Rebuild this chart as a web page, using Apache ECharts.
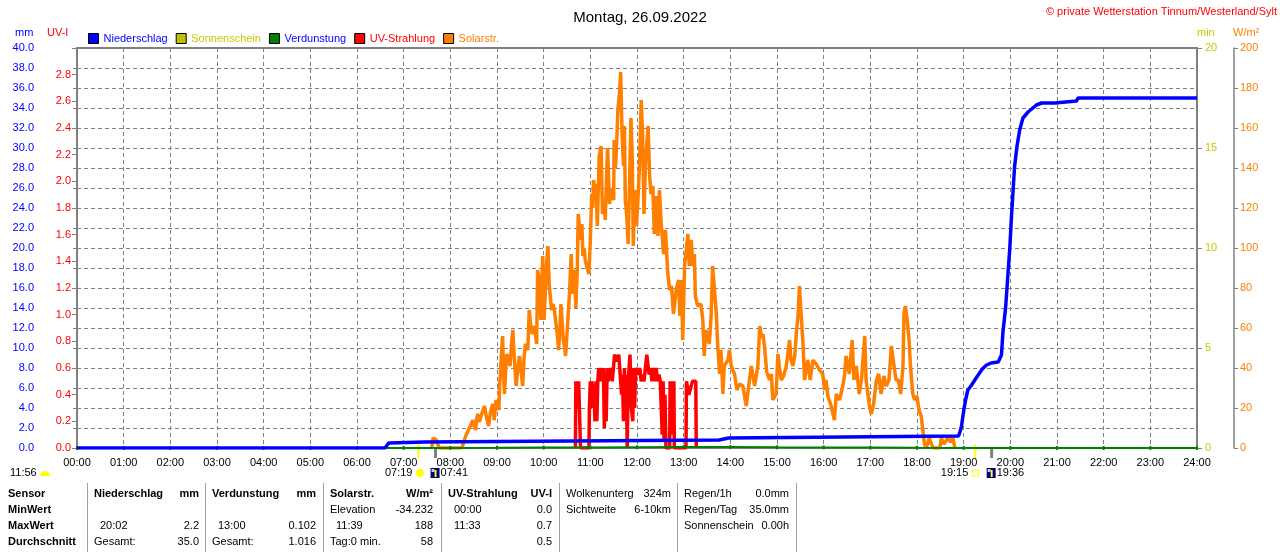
<!DOCTYPE html>
<html><head><meta charset="utf-8">
<script src="https://cdn.jsdelivr.net/npm/echarts/dist/echarts.min.js"></script>
<style>html,body{margin:0;padding:0;background:#fff}#c{width:1280px;height:552px}</style>
</head><body><div id="c"></div>
<script>
// ---------------- DATA ----------------
const titleText = 'Montag, 26.09.2022';
const copyrightText = '© private Wetterstation Tinnum/Westerland/Sylt';
const hourLabels = ['00:00','01:00','02:00','03:00','04:00','05:00','06:00','07:00','08:00','09:00','10:00','11:00','12:00','13:00','14:00','15:00','16:00','17:00','18:00','19:00','20:00','21:00','22:00','23:00','24:00'];
const legendNames = ['Niederschlag','Sonnenschein','Verdunstung','UV-Strahlung','Solarstr.'];

// Niederschlag (mm, cumulative) [hour, mm]
const rain = [[0,0],[6.6,0],[6.64,0.2],[6.68,0.5],[6.72,0.6],[7.44,0.6],[7.48,0.8],[13.76,0.8],[13.78,1.0],[13.96,1.0],[13.98,1.2],
[18.89,1.2],[18.92,1.6],[18.95,2.1],[19.01,4.0],[19.05,5.0],[19.09,5.8],[19.17,6.3],[19.24,6.8],[19.31,7.3],[19.40,7.9],[19.49,8.3],
[19.59,8.5],[19.74,8.6],[19.81,9.3],[19.84,11.5],[19.90,14.1],[19.94,16.8],[19.99,20.1],[20.02,22.8],[20.06,25.8],[20.09,28.1],
[20.14,30.1],[20.20,31.8],[20.27,33.0],[20.38,33.6],[20.56,34.3],[20.67,34.5],[20.95,34.5],[20.99,34.7],[21.42,34.7],[21.45,35.0],[24,35.0]];

// Solarstrahlung (W/m²) [hour, value]
const solar = [[7.60,0],[7.63,5],[7.70,4],[7.74,5],[7.76,0],[8.25,0],[8.26,1],[8.30,4],[8.33,6],[8.37,8],[8.41,10],[8.45,12],[8.48,14],[8.51,11],
[8.54,9],[8.57,15],[8.59,17],[8.62,13],[8.66,14],[8.70,19],[8.73,21],[8.77,16],[8.82,11],[8.86,18],[8.91,22],[8.94,14],[8.98,24],[9.01,21],
[9.04,19],[9.06,32],[9.09,45],[9.12,56],[9.14,38],[9.16,27],[9.19,40],[9.21,47],[9.25,44],[9.28,41],[9.31,52],[9.34,59],[9.37,45],[9.41,31],
[9.44,38],[9.48,46],[9.51,40],[9.55,31],[9.58,45],[9.61,52],[9.66,49],[9.69,69],[9.72,62],[9.75,57],[9.80,61],[9.85,52],[9.87,89],[9.91,84],
[9.94,64],[9.98,96],[10.01,64],[10.04,80],[10.06,91],[10.09,101],[10.12,81],[10.17,69],[10.20,72],[10.23,69],[10.27,61],[10.30,55],[10.32,49],
[10.35,60],[10.37,72],[10.40,62],[10.42,54],[10.45,50],[10.47,46],[10.51,61],[10.55,76],[10.59,97],[10.62,77],[10.64,87],[10.66,89],[10.69,70],
[10.72,89],[10.74,117],[10.77,110],[10.79,104],[10.82,112],[10.84,96],[10.87,100],[10.89,94],[10.93,90],[10.97,87],[11.00,104],[11.03,127],
[11.05,120],[11.07,134],[11.10,128],[11.12,132],[11.15,111],[11.17,130],[11.19,146],[11.23,151],[11.26,117],[11.29,125],[11.32,114],[11.35,138],
[11.37,150],[11.41,122],[11.44,130],[11.46,127],[11.50,124],[11.51,154],[11.54,140],[11.57,156],[11.59,169],[11.62,176],[11.65,188],[11.68,157],
[11.71,141],[11.73,161],[11.75,124],[11.78,116],[11.81,102],[11.84,132],[11.87,165],[11.90,144],[11.92,101],[11.96,129],[11.99,111],[12.02,124],
[12.05,139],[12.09,174],[12.12,157],[12.15,117],[12.18,141],[12.21,152],[12.24,161],[12.27,136],[12.30,127],[12.34,131],[12.37,107],[12.41,126],
[12.45,106],[12.48,129],[12.52,112],[12.57,97],[12.61,109],[12.66,87],[12.70,79],[12.74,81],[12.78,67],[12.84,79],[12.89,84],[12.92,66],[12.95,84],
[12.98,54],[13.02,91],[13.06,100],[13.09,107],[13.12,91],[13.16,104],[13.20,91],[13.23,97],[13.25,76],[13.30,71],[13.37,72],[13.41,64],[13.44,46],
[13.48,59],[13.55,52],[13.59,67],[13.62,91],[13.66,79],[13.70,67],[13.73,51],[13.77,37],[13.80,49],[13.84,27],[13.87,41],[13.95,44],[13.98,49],
[14.02,41],[14.09,37],[14.14,29],[14.20,32],[14.27,31],[14.34,21],[14.41,34],[14.45,41],[14.52,31],[14.59,41],[14.63,61],[14.67,55],[14.70,57],
[14.73,51],[14.78,38],[14.84,34],[14.88,37],[14.91,24],[14.98,27],[15.02,47],[15.05,41],[15.09,34],[15.14,36],[15.20,41],[15.27,54],[15.30,44],
[15.34,41],[15.38,46],[15.41,56],[15.45,66],[15.48,81],[15.52,66],[15.56,51],[15.59,34],[15.66,44],[15.71,34],[15.77,44],[15.84,42],[15.91,39],
[15.98,37],[16.02,29],[16.05,34],[16.09,26],[16.16,21],[16.23,14],[16.27,27],[16.34,24],[16.41,31],[16.45,37],[16.48,46],[16.55,37],[16.61,54],
[16.65,34],[16.70,41],[16.76,27],[16.81,34],[16.88,56],[16.91,34],[16.98,21],[17.02,17],[17.07,22],[17.13,34],[17.18,37],[17.23,27],[17.29,36],
[17.34,31],[17.40,34],[17.45,51],[17.48,52],[17.55,34],[17.60,34],[17.65,27],[17.70,41],[17.72,67],[17.75,71],[17.79,64],[17.83,54],[17.86,41],
[17.88,42],[17.91,27],[17.95,24],[18.00,26],[18.04,19],[18.09,16],[18.13,8],[18.16,2],[18.20,0],[18.26,5],[18.31,2],[18.35,0],[18.49,0],[18.52,5],
[18.58,2],[18.66,5],[18.72,3],[18.77,5],[18.81,0]];

// UV-Strahlung (UV-I) [hour, value]
const uv = [[10.68,0],[10.69,0.5],[10.72,0.3],[10.75,0.5],[10.78,0.5],[10.79,0],[10.97,0],[10.98,0.3],[11.00,0.5],[11.02,0.3],[11.03,0.5],
[11.06,0.5],[11.08,0.4],[11.10,0.2],[11.12,0.5],[11.14,0.2],[11.16,0.5],[11.18,0.6],[11.21,0.5],[11.23,0.6],[11.26,0.5],[11.28,0.6],[11.30,0.15],
[11.32,0.5],[11.34,0.2],[11.36,0.6],[11.38,0.5],[11.41,0.5],[11.44,0.6],[11.47,0.5],[11.50,0.5],[11.52,0.7],[11.55,0.7],[11.58,0.65],[11.61,0.7],
[11.65,0.7],[11.67,0.4],[11.69,0.55],[11.71,0.2],[11.73,0.6],[11.75,0.3],[11.77,0.55],[11.79,0],[11.81,0.5],[11.83,0.6],[11.85,0.7],[11.87,0.7],
[11.88,0.3],[11.91,0.2],[11.93,0.6],[11.95,0.3],[11.97,0.6],[12.00,0.6],[12.03,0.55],[12.06,0.6],[12.09,0.5],[12.12,0.55],[12.15,0.5],[12.19,0.5],
[12.21,0.7],[12.24,0.7],[12.26,0.55],[12.29,0.6],[12.32,0.5],[12.35,0.6],[12.38,0.5],[12.41,0.6],[12.44,0.5],[12.47,0.55],[12.50,0.5],[12.52,0.5],
[12.54,0.1],[12.56,0.5],[12.58,0.05],[12.60,0.4],[12.62,0],[12.70,0],[12.71,0.5],[12.73,0.1],[12.75,0.5],[12.77,0.2],[12.79,0.5],[12.80,0],
[13.05,0],[13.06,0.5],[13.09,0.5],[13.11,0.4],[13.15,0.4],[13.19,0.5],[13.26,0.5],[13.27,0]];

// Verdunstung (mm per hour), one value per hour 00..24
const evap = [0,0,0,0,0,0,0,0,0.01,0.02,0.04,0.06,0.08,0.102,0.09,0.07,0.06,0.04,0.02,0.01,0,0,0,0,0];
// Sonnenschein (min) – no sunshine recorded
const sunshine = [];

// Sun / twilight events shown under the time axis
const sunriseTime = '07:19', dawnTime = '07:41', sunsetTime = '19:15', duskTime = '19:36', noonTime = '11:56';

// Bottom table
const tableRowLabels = ['Sensor','MinWert','MaxWert','Durchschnitt'];
const tableNiederschlag = [['Niederschlag','mm'],['',''],['20:02','2.2'],['Gesamt:','35.0']];
const tableVerdunstung = [['Verdunstung','mm'],['',''],['13:00','0.102'],['Gesamt:','1.016']];
const tableSolar = [['Solarstr.','W/m²'],['Elevation','-34.232'],['11:39','188'],['Tag:0 min.','58']];
const tableUV = [['UV-Strahlung','UV-I'],['00:00','0.0'],['11:33','0.7'],['','0.5']];
const tableWolken = [['Wolkenunterg','324m'],['Sichtweite','6-10km'],['',''],['','']];
const tableRegen = [['Regen/1h','0.0mm'],['Regen/Tag','35.0mm'],['Sonnenschein','0.00h'],['','']];

// ---------------- STYLE / LAYOUT ----------------
const FONT = '"Liberation Sans", Arial, sans-serif';
const GRAY = '#808080';
const C_BLUE = '#0000ff', C_RED = '#ff0000', C_ORANGE = '#ff8000', C_GREEN = '#008000', C_YEL = '#c8c800';
const legendFill = [C_BLUE, '#c0c000', C_GREEN, C_RED, C_ORANGE];
const legendTextColor = [C_BLUE, C_YEL, C_BLUE, C_RED, C_ORANGE];

const chart = echarts.init(document.getElementById('c'), null, {renderer: 'canvas'});
const fmtH = s => +s.slice(0, 2) + (+s.slice(3)) / 60;

const option = {
  animation: false,
  backgroundColor: '#fff',
  textStyle: {fontFamily: FONT},
  title: {text: titleText, left: 'center', top: 5, textStyle: {fontSize: 15, fontWeight: 'normal', color: '#000', fontFamily: FONT}},
  legend: {
    left: 88, top: 33, padding: 0, itemWidth: 10, itemHeight: 10, itemGap: 8, selectedMode: false, icon: 'rect',
    textStyle: {fontSize: 11, width: 72, fontFamily: FONT},
    data: legendNames.map((n, i) => ({name: n, icon: 'rect', itemStyle: {color: legendFill[i], borderColor: '#000', borderWidth: 1}, textStyle: {color: legendTextColor[i]}}))
  },
  grid: {left: 77, right: 83, top: 48, bottom: 104, show: true, borderColor: GRAY, borderWidth: 2, backgroundColor: 'transparent'},
  xAxis: {
    type: 'value', min: 0, max: 24, interval: 1,
    axisLine: {show: false}, axisTick: {show: false},
    axisLabel: {formatter: v => hourLabels[Math.round(v)], color: '#000', fontSize: 11, margin: 9, fontFamily: FONT},
    splitLine: {show: true, lineStyle: {color: GRAY, type: [4, 3], width: 1}}
  },
  yAxis: [
    {type: 'value', position: 'left', offset: 36, min: 0, max: 40, interval: 2,
     axisLine: {show: true, lineStyle: {color: GRAY, width: 1.5}}, axisTick: {show: true, length: 4, lineStyle: {color: GRAY}},
     axisLabel: {color: C_BLUE, fontSize: 11, margin: 7, formatter: v => v.toFixed(1), fontFamily: FONT},
     splitLine: {show: true, lineStyle: {color: GRAY, type: [4, 3], width: 1}}},
    {type: 'value', position: 'left', offset: 0, min: 0, max: 3, interval: 0.2,
     axisLine: {show: false}, axisTick: {show: true, length: 5, lineStyle: {color: GRAY}},
     axisLabel: {color: C_RED, fontSize: 11, margin: 6, formatter: v => v > 2.95 ? '' : v.toFixed(1), fontFamily: FONT},
     splitLine: {show: false}},
    {type: 'value', position: 'right', offset: 0, min: 0, max: 20, interval: 5,
     axisLine: {show: false}, axisTick: {show: true, length: 5, lineStyle: {color: GRAY}},
     axisLabel: {color: C_YEL, fontSize: 11, margin: 8, fontFamily: FONT}, splitLine: {show: false}},
    {type: 'value', position: 'right', offset: 37, min: 0, max: 200, interval: 20,
     axisLine: {show: true, lineStyle: {color: GRAY, width: 1.5}}, axisTick: {show: true, length: 4, lineStyle: {color: GRAY}},
     axisLabel: {color: C_ORANGE, fontSize: 11, margin: 6, fontFamily: FONT}, splitLine: {show: false}}
  ],
  series: [
    {name: 'Sonnenschein', type: 'line', yAxisIndex: 2, data: sunshine, showSymbol: false, itemStyle: {color: '#c0c000'}, lineStyle: {color: '#c0c000', width: 2}},
    {name: 'Solarstr.', type: 'line', yAxisIndex: 3, data: solar, showSymbol: false, itemStyle: {color: C_ORANGE}, lineStyle: {color: C_ORANGE, width: 3.5}, z: 2},
    {name: 'UV-Strahlung', type: 'line', yAxisIndex: 1, data: uv, showSymbol: false, itemStyle: {color: C_RED}, lineStyle: {color: C_RED, width: 3.5}, z: 3},
    {name: 'Verdunstung', type: 'line', yAxisIndex: 0, data: evap.map((v, i) => [i, v]), showSymbol: true, symbol: 'rect', symbolSize: [2, 4],
     itemStyle: {color: C_GREEN}, lineStyle: {color: C_GREEN, width: 2}, z: 4},
    {name: 'Niederschlag', type: 'line', yAxisIndex: 0, data: rain, showSymbol: false, itemStyle: {color: C_BLUE}, lineStyle: {color: C_BLUE, width: 3.5}, z: 5}
  ]
};
chart.setOption(option);

// ---------------- TEXT, TABLE, ANNOTATIONS ----------------
const px = t => chart.convertToPixel({xAxisIndex: 0}, t);
const yB = chart.convertToPixel({yAxisIndex: 0}, 0);
const g = [];
const txt = (x, y, s, color, opts = {}) => g.push({type: 'text', x, y, silent: true, style: {
  text: s, fill: color, font: (opts.bold ? 'bold ' : '') + (opts.size || 11) + 'px ' + FONT,
  textAlign: opts.align || 'left', textVerticalAlign: 'middle'}});
const line = (x1, y1, x2, y2, color, w) => g.push({type: 'line', silent: true, shape: {x1, y1, x2, y2}, style: {stroke: color, lineWidth: w}});

// header texts
txt(1277, 12, copyrightText, C_RED, {align: 'right'});
txt(15, 33, 'mm', C_BLUE);
txt(47, 33, 'UV-I', C_RED);
txt(1197, 33, 'min', C_YEL);
txt(1233, 33, 'W/m²', C_ORANGE);

// sun events below axis
const labY = 473;
const xr = px(fmtH(sunriseTime)), xd = px(fmtH(dawnTime)), xs = px(fmtH(sunsetTime)), xk = px(fmtH(duskTime));
line(xr, yB - 4, xr, yB + 10, '#ffff00', 2);
line(xs, yB - 4, xs, yB + 10, '#ffff00', 2);
line(xd, yB + 1, xd, yB + 10, GRAY, 3);
line(xk, yB + 1, xk, yB + 10, GRAY, 3);
txt(xr - 6, labY, sunriseTime, '#000', {align: 'right'});
g.push({type: 'circle', silent: true, shape: {cx: xr + 1.5, cy: labY, r: 4}, style: {fill: '#ffff00'}});
const blueIcon = (x) => {
  g.push({type: 'rect', silent: true, shape: {x: x - 5, y: labY - 5, width: 9, height: 10}, style: {fill: '#000080'}});
  g.push({type: 'rect', silent: true, shape: {x: x - 1, y: labY - 3, width: 2, height: 7}, style: {fill: '#ffff00'}});
  g.push({type: 'rect', silent: true, shape: {x: x - 4, y: labY - 4, width: 3, height: 3}, style: {fill: '#c0d0ff'}});
};
blueIcon(xd);
txt(xd + 5, labY, dawnTime, '#000');
txt(xs - 7, labY, sunsetTime, '#000', {align: 'right'});
g.push({type: 'rect', silent: true, shape: {x: xs - 3, y: labY - 3, width: 6, height: 6}, style: {fill: 'none', stroke: '#ffff00', lineWidth: 1}});
blueIcon(xk);
txt(xk + 5, labY, duskTime, '#000');
txt(10, labY, noonTime, '#000');
g.push({type: 'sector', silent: true, shape: {cx: 45, cy: labY + 3, r: 5, startAngle: Math.PI, endAngle: Math.PI * 2}, style: {fill: '#ffff00'}});

// bottom table
const rowY = [494, 510, 526, 542];
const sepX = [87, 205, 323, 441, 559, 677, 796];
sepX.forEach(x => line(x + 0.5, 483, x + 0.5, 552, '#a0a0a0', 1));
tableRowLabels.forEach((s, i) => txt(8, rowY[i], s, '#000', {bold: true}));
const cols = [
  {d: tableNiederschlag, l: 94, r: 199, boldHead: true},
  {d: tableVerdunstung, l: 212, r: 316, boldHead: true},
  {d: tableSolar, l: 330, r: 433, boldHead: true},
  {d: tableUV, l: 448, r: 552, boldHead: true},
  {d: tableWolken, l: 566, r: 671, boldHead: false},
  {d: tableRegen, l: 684, r: 789, boldHead: false}
];
cols.forEach(c => c.d.forEach((row, i) => {
  const bold = i === 0 && c.boldHead;
  const indent = /^\d\d:\d\d$/.test(row[0]) ? 6 : 0;
  if (row[0]) txt(c.l + indent, rowY[i], row[0], '#000', {bold});
  if (row[1]) txt(c.r, rowY[i], row[1], '#000', {bold, align: 'right'});
}));

chart.setOption({graphic: g});
</script>
</body></html>
